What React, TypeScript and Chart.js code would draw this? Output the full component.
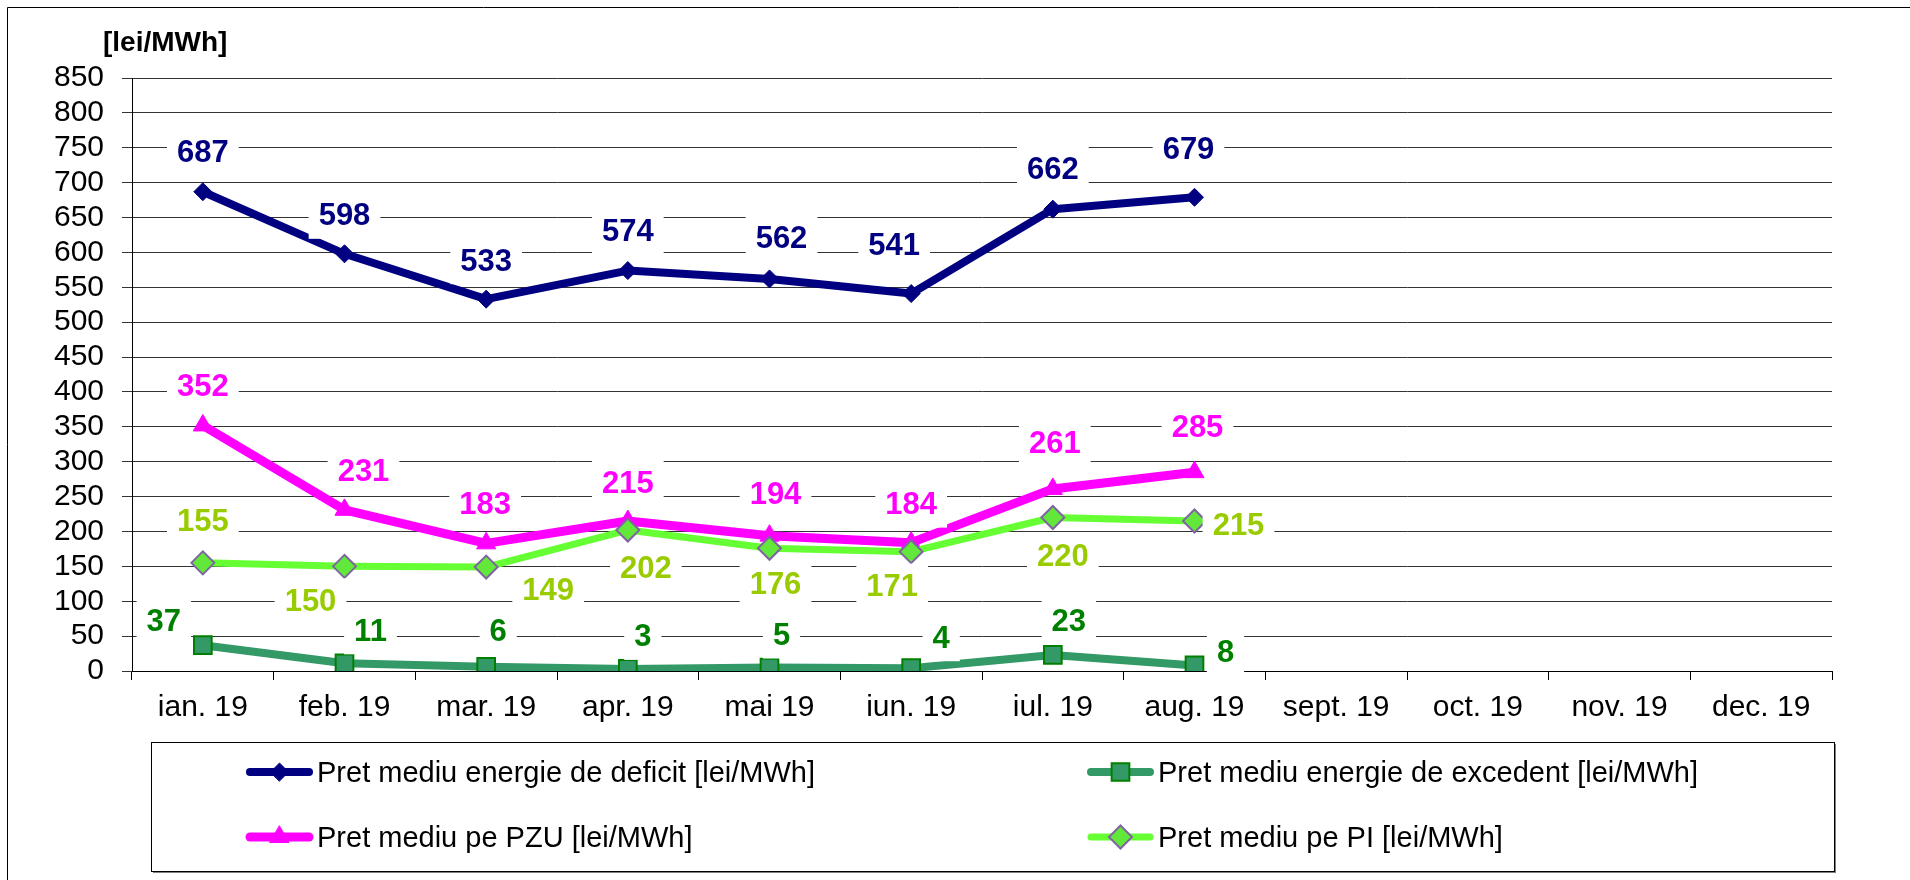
import React, { useEffect, useRef } from "react";
import { Chart, registerables } from "chart.js";

Chart.register(...registerables);

// ---------- DATA ----------
const months = [
  "ian. 19", "feb. 19", "mar. 19", "apr. 19", "mai 19", "iun. 19",
  "iul. 19", "aug. 19", "sept. 19", "oct. 19", "nov. 19", "dec. 19",
];
const deficitPrice = [687, 598, 533, 574, 562, 541, 662, 679, null, null, null, null];
const excedentPrice = [37, 11, 6, 3, 5, 4, 23, 8, null, null, null, null];
const pzuPrice = [352, 231, 183, 215, 194, 184, 261, 285, null, null, null, null];
const piPrice = [155, 150, 149, 202, 176, 171, 220, 215, null, null, null, null];

const seriesNames = [
  "Pret mediu energie de deficit [lei/MWh]",
  "Pret mediu energie de excedent [lei/MWh]",
  "Pret mediu pe PZU [lei/MWh]",
  "Pret mediu pe PI [lei/MWh]",
];
const yMin = 0;
const yMax = 850;
const yStep = 50;
const yTitle = "[lei/MWh]";

// ---------- STYLE ----------
const FONT = '"Liberation Sans", Arial, sans-serif';

type SeriesStyle = {
  line: string;
  width: number;
  marker: "rectRot" | "rect" | "triangle";
  radius: number;
  fill: string;
  stroke: string;
  strokeW: number;
  labelColor: string;
  order: number;
};

const styles: SeriesStyle[] = [
  { line: "#000080", width: 8, marker: "rectRot", radius: 9, fill: "#000080", stroke: "#000080", strokeW: 1, labelColor: "#000080", order: 3 },
  { line: "#339966", width: 8, marker: "rect", radius: 12.5, fill: "#339966", stroke: "#008000", strokeW: 2, labelColor: "#008000", order: 2 },
  { line: "#FF00FF", width: 9, marker: "triangle", radius: 11, fill: "#FF00FF", stroke: "#FF00FF", strokeW: 1, labelColor: "#FF00FF", order: 1 },
  { line: "#66FF33", width: 7, marker: "rectRot", radius: 11.5, fill: "#62E83A", stroke: "#8064A2", strokeW: 2, labelColor: "#99CC00", order: 0 },
];

// label offsets relative to each point (px)
const labelOffsets: number[][][] = [
  [[0, -39], [0, -38], [0, -38], [0, -39], [12, -40], [-17, -48], [0, -40], [-6, -48]],
  [[-39, -24], [26, -32], [12, -35], [15, -32], [12, -32], [30, -30], [16, -34], [31, -13]],
  [[0, -39], [19, -38], [-1, -39], [0, -38], [6, -41], [0, -38], [2, -45], [3, -45]],
  [[0, -41], [-34, 35], [62, 23], [18, 38], [6, 36], [-19, 35], [10, 39], [44, 4]],
];

function drawMarker(ctx: CanvasRenderingContext2D, st: SeriesStyle, x: number, y: number) {
  const r = st.radius;
  ctx.beginPath();
  if (st.marker === "rectRot") {
    ctx.moveTo(x - r, y);
    ctx.lineTo(x, y - r);
    ctx.lineTo(x + r, y);
    ctx.lineTo(x, y + r);
  } else if (st.marker === "rect") {
    const s = Math.SQRT1_2 * r;
    ctx.rect(x - s, y - s, 2 * s, 2 * s);
  } else {
    for (let k = 0; k < 3; k++) {
      const a = (k * 2 * Math.PI) / 3;
      const px = x + Math.sin(a) * r;
      const py = y - Math.cos(a) * r;
      if (k === 0) ctx.moveTo(px, py);
      else ctx.lineTo(px, py);
    }
  }
  ctx.closePath();
  ctx.fillStyle = st.fill;
  ctx.fill();
  ctx.lineWidth = st.strokeW;
  ctx.strokeStyle = st.stroke;
  ctx.stroke();
}

const labelsPlugin = {
  id: "valueLabels",
  afterDatasetsDraw(chart: any) {
    const ctx: CanvasRenderingContext2D = chart.ctx;
    ctx.save();
    ctx.font = `bold 31px ${FONT}`;
    ctx.textAlign = "center";
    ctx.textBaseline = "middle";
    chart.data.datasets.forEach((ds: any, di: number) => {
      const meta = chart.getDatasetMeta(di);
      ds.data.forEach((v: number | null, i: number) => {
        if (v === null || v === undefined) return;
        const pt = meta.data[i];
        const off = labelOffsets[di][i] || [0, -38];
        const x = pt.x + off[0];
        const y = pt.y + off[1];
        const txt = String(v);
        const w = ctx.measureText(txt).width + 20;
        const h = 46;
        ctx.fillStyle = "#ffffff";
        ctx.fillRect(x - w / 2, y - h / 2, w, h);
        ctx.fillStyle = styles[di].labelColor;
        ctx.fillText(txt, x, y + 1);
      });
    });
    ctx.restore();
  },
};

const framePlugin = {
  id: "frameLegend",
  afterDraw(chart: any) {
    const ctx: CanvasRenderingContext2D = chart.ctx;
    ctx.save();
    // outer frame
    ctx.strokeStyle = "#000";
    ctx.lineWidth = 1;
    ctx.beginPath();
    ctx.moveTo(7.5, 900);
    ctx.lineTo(7.5, 7.5);
    ctx.lineTo(1920, 7.5);
    ctx.stroke();

    // y axis title
    ctx.fillStyle = "#000";
    ctx.font = `bold 28px ${FONT}`;
    ctx.textAlign = "left";
    ctx.textBaseline = "middle";
    ctx.fillText(yTitle, 103, 43);

    // legend box
    const lx = 151, ly = 742, lw = 1683, lh = 129;
    ctx.fillStyle = "#808080";
    ctx.fillRect(lx + 2, ly + lh, lw, 2);
    ctx.fillRect(lx + lw, ly + 2, 2, lh);
    ctx.strokeStyle = "#000";
    ctx.lineWidth = 1;
    ctx.strokeRect(lx + 0.5, ly + 0.5, lw, lh);

    const cols = [246, 1087];
    const rows = [772, 837];
    ctx.font = `29px ${FONT}`;
    ctx.textAlign = "left";
    ctx.textBaseline = "alphabetic";
    seriesNames.forEach((name, i) => {
      const st = styles[i];
      const x0 = cols[i % 2];
      const y0 = rows[Math.floor(i / 2)];
      ctx.strokeStyle = st.line;
      ctx.lineWidth = st.width;
      ctx.lineCap = "round";
      ctx.beginPath();
      ctx.moveTo(x0 + 4, y0);
      ctx.lineTo(x0 + 63, y0);
      ctx.stroke();
      drawMarker(ctx, st, x0 + 33.5, y0);
      ctx.fillStyle = "#000";
      ctx.fillText(name, x0 + 71, y0 + 10);
    });
    ctx.restore();
  },
};

export default function App() {
  const ref = useRef<HTMLCanvasElement | null>(null);

  useEffect(() => {
    if (!ref.current) return;
    const series = [deficitPrice, excedentPrice, pzuPrice, piPrice];
    const chart = new Chart(ref.current, {
      type: "line",
      data: {
        labels: months,
        datasets: series.map((d, i) => {
          const st = styles[i];
          return {
            label: seriesNames[i],
            data: d,
            borderColor: st.line,
            backgroundColor: st.fill,
            borderWidth: st.width,
            borderJoinStyle: "round",
            borderCapStyle: "round",
            tension: 0,
            spanGaps: false,
            pointStyle: st.marker,
            pointRadius: st.radius,
            pointHoverRadius: st.radius,
            pointBackgroundColor: st.fill,
            pointBorderColor: st.stroke,
            pointBorderWidth: st.strokeW,
            order: st.order,
          } as any;
        }),
      },
      options: {
        responsive: false,
        animation: false,
        layout: { padding: { left: 0, right: 78, top: 78, bottom: 149 } },
        plugins: {
          legend: { display: false },
          tooltip: { enabled: false },
        },
        scales: {
          x: {
            type: "category",
            offset: true,
            grid: {
              offset: true,
              drawOnChartArea: false,
              drawTicks: true,
              tickLength: 9,
              color: "#000",
            },
            border: { color: "#000", width: 1 },
            ticks: {
              color: "#000",
              font: { family: FONT, size: 30 },
              padding: 10,
              maxRotation: 0,
              autoSkip: false,
            },
            afterFit: (s: any) => {
              s.height = 60;
            },
          },
          y: {
            min: yMin,
            max: yMax,
            ticks: {
              stepSize: yStep,
              autoSkip: false,
              color: "#000",
              font: { family: FONT, size: 30 },
              padding: 18,
            },
            grid: { color: "#333", tickLength: 10, lineWidth: 1 },
            border: { color: "#000", width: 1 },
            afterFit: (s: any) => {
              s.width = 132;
            },
          },
        },
      } as any,
      plugins: [labelsPlugin, framePlugin],
    });
    return () => chart.destroy();
  }, []);

  return (
    <div style={{ position: "fixed", left: 0, top: 0, width: 1910, height: 880, background: "#fff" }}>
      <canvas ref={ref} width={1910} height={880} style={{ display: "block" }} />
    </div>
  );
}
